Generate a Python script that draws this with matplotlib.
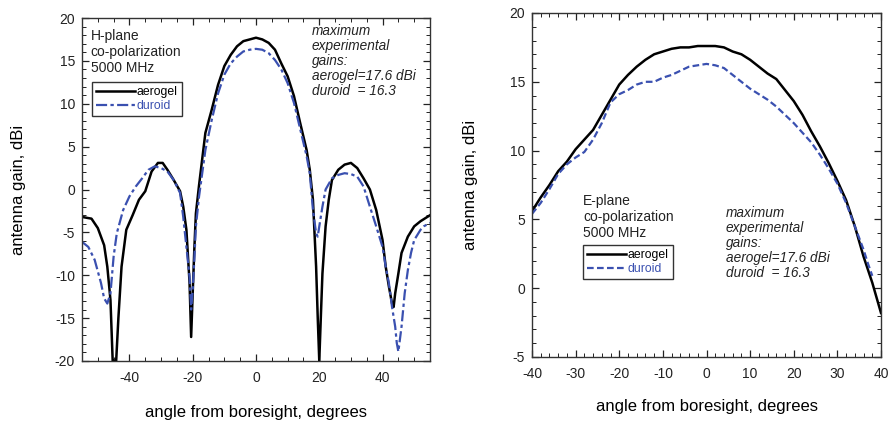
import matplotlib
matplotlib.use("Agg")
import matplotlib.pyplot as plt
from matplotlib.ticker import MultipleLocator

plt.rcParams['font.family'] = ['Liberation Sans', 'DejaVu Sans']
plt.rcParams['axes.unicode_minus'] = False

# ---- H-plane data ----
h_aero_x = [-55, -52, -50, -48, -47, -46, -45.3, -44.8, -44.2, -43.5, -42.5, -41, -39, -37, -35, -33, -31,
            -29.5, -28, -26, -24, -23, -22, -21, -20.5, -20, -19.5, -19, -18, -16, -14, -12, -10, -8, -6,
            -4, -2, 0, 2, 4, 6, 8, 10, 12, 14, 16, 17, 18, 19, 19.5, 20, 20.5, 21, 22, 23, 24, 26, 28,
            30, 32, 34, 36, 38, 40, 41, 42, 43, 43.5, 44, 45, 46, 48, 50, 52, 55]
h_aero_y = [-3.2, -3.4, -4.5, -6.5, -9.0, -12.9, -20, -20, -20, -15, -9.0, -4.7, -3.0, -1.2, -0.2, 2.1, 3.1,
            3.1, 2.3, 1.1, -0.2, -2.0, -4.7, -10.9, -17.2, -12.0, -7.0, -2.8, 0.5, 6.6, 9.3, 12.2, 14.4, 15.7, 16.7,
            17.3, 17.5, 17.7, 17.5, 17.1, 16.3, 14.7, 13.2, 10.9, 7.7, 4.6, 2.3, -1.2, -9.0, -14.8, -20, -14.8, -9.8, -4.3, -1.2, 1.1, 2.3, 2.9,
            3.1, 2.5, 1.3, 0.0, -2.4, -5.9, -9.0, -11.3, -13.3, -13.7, -12.1, -9.8, -7.4, -5.5, -4.3, -3.7, -3.0]

h_dur_x = [-55, -53, -51, -49, -48, -47, -46, -45, -44, -42, -40, -38, -36, -34, -32, -30, -28, -26, -24,
           -23, -22, -21, -20.5, -20, -19.5, -19, -18, -17, -16, -14, -12, -10, -8, -6, -4, -2, 0, 2, 4, 6,
           8, 10, 12, 14, 16, 17, 18, 19, 19.5, 20, 21, 22, 24, 26, 28, 30, 32, 34, 36, 38, 40, 41, 42, 43,
           44, 44.5, 45, 46, 47, 48, 49, 50, 52, 53, 55]
h_dur_y = [-6.1, -6.7, -8.2, -10.9, -12.7, -13.3, -12.1, -7.8, -5.1, -2.4, -0.8, 0.35, 1.3, 2.3, 2.7, 2.5, 2.1, 1.1, -0.4,
           -3.2, -6.7, -10.2, -14.0, -11.7, -8.2, -4.3, -0.8, 1.9, 4.6, 8.1, 11.2, 13.4, 14.7, 15.5, 16.1, 16.3, 16.4, 16.3, 15.9, 15.1,
           14.0, 12.4, 10.1, 7.0, 3.9, 1.9, -2.4, -5.1, -5.5, -4.3, -2.0, 0.0, 1.3, 1.7, 1.9, 1.8, 1.5, 0.35, -2.0, -4.3, -6.7, -9.0, -10.9, -13.7,
           -16.0, -17.9, -18.9, -16.0, -12.1, -9.4, -7.4, -5.9, -4.7, -4.3, -3.9]

# ---- E-plane data ----
e_aero_x = [-40, -38, -36, -34, -32, -30, -28, -26, -24, -22, -20, -18, -16, -14, -12, -10, -8, -6, -4, -2,
            0, 2, 4, 6, 8, 10, 12, 14, 16, 18, 20, 22, 24, 26, 28, 30, 32, 34, 36, 38, 40]
e_aero_y = [5.6, 6.6, 7.5, 8.5, 9.2, 10.1, 10.8, 11.5, 12.6, 13.7, 14.8, 15.5, 16.1, 16.6, 17.0, 17.2, 17.4, 17.5, 17.5, 17.6,
            17.6, 17.6, 17.5, 17.2, 17.0, 16.6, 16.1, 15.6, 15.2, 14.4, 13.6, 12.6, 11.4, 10.3, 9.1, 7.8, 6.4, 4.5, 2.3, 0.4, -1.8]

e_dur_x = [-40, -38, -36, -34, -32, -30, -28, -26, -24, -22, -20, -18, -16, -14, -12, -10, -8, -6, -4, -2,
           0, 2, 4, 6, 8, 10, 12, 14, 16, 18, 20, 22, 24, 26, 28, 30, 32, 34, 36, 37, 38]
e_dur_y = [5.4, 6.2, 7.2, 8.3, 9.0, 9.5, 9.9, 10.8, 12.0, 13.5, 14.1, 14.4, 14.8, 15.0, 15.0, 15.3, 15.5, 15.8, 16.1, 16.2,
           16.3, 16.2, 16.0, 15.5, 15.0, 14.5, 14.1, 13.7, 13.2, 12.6, 12.0, 11.3, 10.6, 9.7, 8.7, 7.6, 6.2, 4.5, 2.8, 1.8, 0.9]

series_labels = ['aerogel', 'duroid']
BLUE = '#3a50b0'

fig = plt.figure(figsize=(8.89, 4.22), dpi=100)
ax1 = fig.add_axes([82/889, 1-361/422, 348/889, 343/422])
ax2 = fig.add_axes([532/889, 1-357/422, 349/889, 344/422])

def style(ax, xmaj, xmin_):
    ax.xaxis.set_major_locator(MultipleLocator(xmaj))
    ax.xaxis.set_minor_locator(MultipleLocator(xmin_))
    ax.yaxis.set_major_locator(MultipleLocator(5))
    ax.yaxis.set_minor_locator(MultipleLocator(1))
    ax.tick_params(which='both', direction='in', top=True, right=True, labelsize=10, colors='#222222')
    ax.tick_params(which='major', length=5, width=0.9)
    ax.tick_params(which='minor', length=3, width=0.7)
    ax.tick_params(axis='x', which='major', pad=7)
    ax.tick_params(axis='y', which='major', pad=5)
    for s in ax.spines.values():
        s.set_linewidth(1.0)
        s.set_color('#333333')

# Left: H-plane
ax1.plot(h_aero_x, h_aero_y, color='black', lw=1.8, label=series_labels[0], solid_joinstyle='round')
ax1.plot(h_dur_x, h_dur_y, color=BLUE, lw=1.6, ls=(0, (5, 1.5, 1.5, 1.5)), label=series_labels[1])
ax1.set_xlim(-55, 55)
ax1.set_ylim(-20, 20)
style(ax1, 20, 5)
ax1.set_xlabel('angle from boresight, degrees', fontsize=12)
ax1.xaxis.set_label_coords(0.5, (361-413)/343)
ax1.xaxis.label.set_va('center')
ax1.set_ylabel('antenna gain, dBi', fontsize=12)
ax1.yaxis.set_label_coords((19-82)/348, 0.5)
ax1.yaxis.label.set_va('center')
ax1.text(0.025, (361-52)/343, 'H-plane\nco-polarization\n5000 MHz', transform=ax1.transAxes,
         fontsize=10, va='center', ha='left', linespacing=1.2, color='#222222')
ax1.text((312-82)/348, (361-61)/343, 'maximum\nexperimental\ngains:\naerogel=17.6 dBi\nduroid  = 16.3',
         transform=ax1.transAxes, fontsize=9.8, style='italic', va='center', ha='left', linespacing=1.1,
         color='#222222')
leg1 = ax1.legend(loc='upper left', bbox_to_anchor=((92-82)/348, (361-82)/343), fontsize=8.8,
                  frameon=True, fancybox=False, edgecolor='#333333', framealpha=1,
                  handlelength=3.2, handletextpad=0.1, borderpad=0.35, labelspacing=0.15,
                  borderaxespad=0)
leg1.get_frame().set_linewidth(1.0)
leg1.get_texts()[1].set_color(BLUE)

# Right: E-plane
ax2.plot(e_aero_x, e_aero_y, color='black', lw=1.8, label=series_labels[0])
ax2.plot(e_dur_x, e_dur_y, color=BLUE, lw=1.6, ls=(0, (3, 1.5)), label=series_labels[1])
ax2.set_xlim(-40, 40)
ax2.set_ylim(-5, 20)
style(ax2, 10, 2)
ax2.set_xlabel('angle from boresight, degrees', fontsize=12)
ax2.xaxis.set_label_coords(0.5, (357-407)/344)
ax2.xaxis.label.set_va('center')
ax2.set_ylabel('antenna gain, dBi', fontsize=12)
ax2.yaxis.set_label_coords((470-532)/349, 0.5)
ax2.yaxis.label.set_va('center')
ax2.text((583-532)/349, (357-217)/344, 'E-plane\nco-polarization\n5000 MHz', transform=ax2.transAxes,
         fontsize=10, va='center', ha='left', linespacing=1.2, color='#222222')
ax2.text((726-532)/349, (357-243)/344, 'maximum\nexperimental\ngains:\naerogel=17.6 dBi\nduroid  = 16.3',
         transform=ax2.transAxes, fontsize=9.8, style='italic', va='center', ha='left', linespacing=1.1,
         color='#222222')
leg2 = ax2.legend(loc='upper left', bbox_to_anchor=((583-532)/349, (357-245)/344), fontsize=8.8,
                  frameon=True, fancybox=False, edgecolor='#333333', framealpha=1,
                  handlelength=3.2, handletextpad=0.1, borderpad=0.35, labelspacing=0.15,
                  borderaxespad=0)
leg2.get_frame().set_linewidth(1.0)
leg2.get_texts()[1].set_color(BLUE)

fig.savefig('out.png', dpi=100)
